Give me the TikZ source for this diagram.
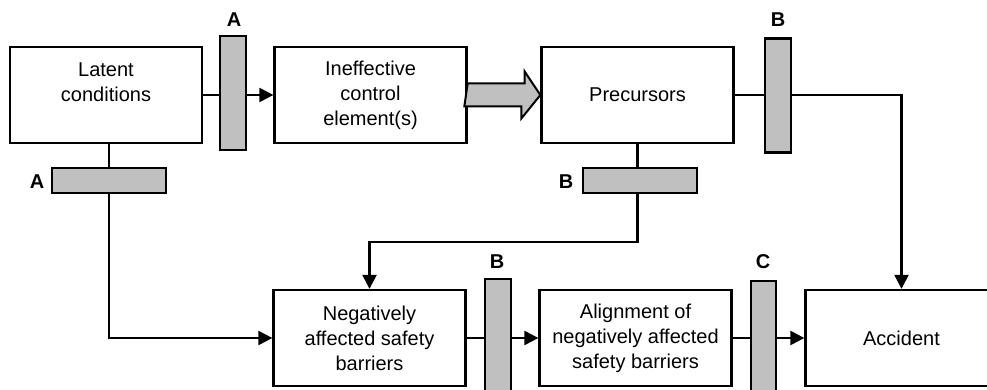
\documentclass[tikz,border=0pt]{standalone}
\usepackage{fontspec}
\setmainfont{Liberation Sans}
\usetikzlibrary{arrows.meta}
\begin{document}
\begin{tikzpicture}[x=1pt,y=-1pt,
  line width=2.3pt,
  every node/.style={font=\fontsize{20}{25}\selectfont},
  stage/.style={draw, fill=white, minimum width=192pt, minimum height=96pt,
    inner sep=0pt, align=center},
  vbar/.style={draw, fill=barrier, minimum width=26pt, minimum height=114pt, inner sep=0pt},
  hbar/.style={draw, fill=barrier, minimum width=114pt, minimum height=25pt, inner sep=0pt},
  tag/.style={font=\fontsize{20}{25}\selectfont\bfseries, inner sep=0pt},
  flow/.style={-{Triangle[length=14pt,width=14pt]}},
  fatarrow/.style={draw, fill=barrier, line width=2pt, line join=miter}
]
\definecolor{barrier}{HTML}{C0C0C0}
\useasboundingbox (0,0) rectangle (987,390);
\clip (0,0) rectangle (987,390);

% stages of the accident sequence
\node[stage] (lat) at (106,95)    {Latent\\conditions\\\rule[-1pt]{0pt}{1pt}};
\node[stage] (ine) at (370.5,95)  {Ineffective\\control\\element(s)};
\node[stage] (pre) at (637.5,95)  {Precursors};
\node[stage] (neg) at (369.5,338) {Negatively\\affected safety\\barriers};
\node[stage] (ali) at (635.5,338) {Alignment of\\negatively affected\\safety barriers};
\node[stage] (acc) at (901.5,338) {Accident};

% barriers
\node[vbar] (bA1) at (233,93) {};
\node[vbar] (bB1) at (778,95.5) {};
\node[hbar] (bA2) at (109,180.5) {};
\node[hbar] (bB3) at (640,180.5) {};
\node[vbar, minimum height=130pt] (bB2) at (498,344) {};
\node[vbar, minimum height=130pt, minimum width=25pt] (bC) at (763.5,346) {};

% barrier labels
\node[tag] (tA1) at (234,20) {A};
\node[tag] (tB1) at (778,20) {B};
\node[tag] (tA2) at (37,182) {A};
\node[tag] (tB3) at (566,182) {B};
\node[tag] (tB2) at (497,262) {B};
\node[tag] (tC)  at (763,262) {C};

\coordinate (turn) at (0,242);

% connectors, top row
\draw (lat.east) -- (bA1.west |- lat.east);
\draw[flow] (bA1.east |- lat.east) -- (ine.west);
\draw[fatarrow] (ine.east) ++(0,-11.5) -- ++(57,0) -- ++(0,-12) -- (pre.west)
  -- ++(-19,23.5) -- ++(0,-12) -- ++(-57,0) -- cycle;
\draw (pre.east) -- (bB1.west |- pre.east);
\draw[flow] (bB1.east |- pre.east) -| (acc.north);

% connectors, downward branches
\draw (bA2.north |- lat.south) -- (bA2.north);
\draw[flow] (bA2.south) |- (neg.west);
\draw (pre.south) -- (pre.south |- bB3.north);
\draw[flow] (pre.south |- bB3.south) -- (pre.south |- turn) -| (neg.north);

% connectors, bottom row
\draw (neg.east) -- (bB2.west |- neg.east);
\draw[flow] (bB2.east |- neg.east) -- (ali.west);
\draw (ali.east) -- (bC.west |- ali.east);
\draw[flow] (bC.east |- ali.east) -- (acc.west);
\end{tikzpicture}
\end{document}
